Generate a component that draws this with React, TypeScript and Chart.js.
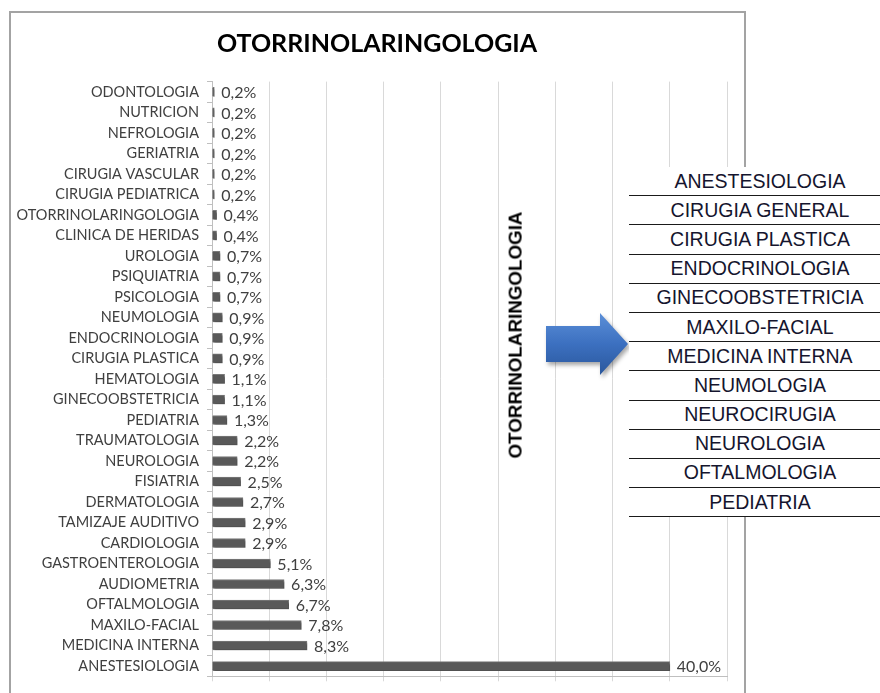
import React, { useEffect, useRef } from "react";
import { Chart, registerables } from "chart.js";

Chart.register(...registerables);

const chartTitle = "OTORRINOLARINGOLOGIA";

const categories = [
  "ODONTOLOGIA",
  "NUTRICION",
  "NEFROLOGIA",
  "GERIATRIA",
  "CIRUGIA VASCULAR",
  "CIRUGIA PEDIATRICA",
  "OTORRINOLARINGOLOGIA",
  "CLINICA DE HERIDAS",
  "UROLOGIA",
  "PSIQUIATRIA",
  "PSICOLOGIA",
  "NEUMOLOGIA",
  "ENDOCRINOLOGIA",
  "CIRUGIA PLASTICA",
  "HEMATOLOGIA",
  "GINECOOBSTETRICIA",
  "PEDIATRIA",
  "TRAUMATOLOGIA",
  "NEUROLOGIA",
  "FISIATRIA",
  "DERMATOLOGIA",
  "TAMIZAJE AUDITIVO",
  "CARDIOLOGIA",
  "GASTROENTEROLOGIA",
  "AUDIOMETRIA",
  "OFTALMOLOGIA",
  "MAXILO-FACIAL",
  "MEDICINA INTERNA",
  "ANESTESIOLOGIA",
];

const percentages = [
  0.2, 0.2, 0.2, 0.2, 0.2, 0.2, 0.4, 0.4, 0.7, 0.7, 0.7, 0.9, 0.9, 0.9, 1.1,
  1.1, 1.3, 2.2, 2.2, 2.5, 2.7, 2.9, 2.9, 5.1, 6.3, 6.7, 7.8, 8.3, 40.0,
];

const xAxisMax = 45;
const xAxisStep = 5;

const sideLabel = "OTORRINOLARINGOLOGIA";

const sideList = [
  "ANESTESIOLOGIA",
  "CIRUGIA GENERAL",
  "CIRUGIA PLASTICA",
  "ENDOCRINOLOGIA",
  "GINECOOBSTETRICIA",
  "MAXILO-FACIAL",
  "MEDICINA INTERNA",
  "NEUMOLOGIA",
  "NEUROCIRUGIA",
  "NEUROLOGIA",
  "OFTALMOLOGIA",
  "PEDIATRIA",
];

const formatPct = (v: number) => v.toFixed(1).replace(".", ",") + "%";

const shadowPlugin = {
  id: "barShadow",
  beforeDatasetDraw(chart: any) {
    const ctx = chart.ctx;
    ctx.save();
    ctx.shadowColor = "rgba(0,0,0,0.35)";
    ctx.shadowOffsetX = 2;
    ctx.shadowOffsetY = 2;
    ctx.shadowBlur = 2;
  },
  afterDatasetDraw(chart: any) {
    chart.ctx.restore();
  },
};

const valueLabelPlugin = {
  id: "valueLabels",
  afterDatasetsDraw(chart: any) {
    const ctx = chart.ctx;
    const meta = chart.getDatasetMeta(0);
    const data = chart.data.datasets[0].data as number[];
    ctx.save();
    ctx.font = "16px Lato";
    ctx.fillStyle = "#404040";
    ctx.textAlign = "left";
    ctx.textBaseline = "middle";
    meta.data.forEach((bar: any, i: number) => {
      ctx.fillText(formatPct(data[i]), bar.x + 7, bar.y + 1);
    });
    ctx.restore();
  },
};

export default function App() {
  const canvasRef = useRef<HTMLCanvasElement | null>(null);

  useEffect(() => {
    if (!canvasRef.current) return;
    const chart = new Chart(canvasRef.current, {
      type: "bar",
      data: {
        labels: categories,
        datasets: [
          {
            data: percentages,
            backgroundColor: "#595959",
            borderColor: "#7a7a7a",
            borderWidth: 1,
            barThickness: 9,
          },
        ],
      },
      options: {
        indexAxis: "y",
        animation: false,
        responsive: false,
        layout: { padding: { left: 0, right: 0, top: 0, bottom: 6 } },
        plugins: {
          legend: { display: false },
          tooltip: { enabled: false },
          title: {
            display: true,
            text: chartTitle,
            color: "#000000",
            font: { family: "Lato", size: 25, weight: "bold", lineHeight: 1.2 },
            padding: { top: 15.5, bottom: 23.1 },
          },
        },
        scales: {
          x: {
            min: 0,
            max: xAxisMax,
            ticks: { stepSize: xAxisStep, display: false },
            grid: { color: "#d9d9d9", tickLength: 5, lineWidth: 1 },
            border: { color: "#bfbfbf" },
          },
          y: {
            ticks: {
              autoSkip: false,
              color: "#404040",
              font: { family: "Lato", size: 14.5 },
              padding: 8,
            },
            grid: {
              drawOnChartArea: false,
              offset: true,
              tickLength: 5,
              color: "#bfbfbf",
            },
            border: { color: "#bfbfbf" },
            afterFit(scale: any) {
              scale.width = 201;
            },
          },
          yRight: {
            type: "category",
            position: "right",
            grid: { display: false },
            border: { display: false },
            ticks: { display: false },
            afterFit(scale: any) {
              scale.width = 16;
            },
          },
        },
      } as any,
      plugins: [shadowPlugin, valueLabelPlugin],
    });
    return () => chart.destroy();
  }, []);

  return (
    <div
      style={{
        position: "absolute",
        left: 0,
        top: 0,
        width: 880,
        height: 693,
        overflow: "hidden",
        background: "#ffffff",
      }}
    >
      <div
        style={{
          position: "absolute",
          left: 9,
          top: 11,
          width: 737,
          height: 700,
          boxSizing: "border-box",
          border: "2px solid #a3a3a3",
        }}
      />
      <canvas
        ref={canvasRef}
        width={732}
        height={680}
        style={{ position: "absolute", left: 11, top: 13, width: 732, height: 680 }}
      />
      <div
        style={{
          position: "absolute",
          left: 515.5,
          top: 335,
          transform: "translate(-50%, -50%) rotate(-90deg)",
          fontFamily: "'Liberation Sans', Arial, sans-serif",
          fontWeight: "bold",
          fontSize: 18.8,
          color: "#000",
          whiteSpace: "nowrap",
          lineHeight: 1,
        }}
      >
        {sideLabel}
      </div>
      <svg
        width={100}
        height={90}
        style={{
          position: "absolute",
          left: 540,
          top: 305,
          overflow: "visible",
          filter: "drop-shadow(2px 3px 2px rgba(0,0,0,0.35))",
        }}
      >
        <defs>
          <linearGradient id="arrowGrad" x1="0" y1="0" x2="0" y2="1">
            <stop offset="0%" stopColor="#5b8fd8" />
            <stop offset="50%" stopColor="#3c70c0" />
            <stop offset="100%" stopColor="#2a579c" />
          </linearGradient>
        </defs>
        <polygon
          points="6,21 60,21 60,8 88,39 60,70 60,57 6,57"
          fill="url(#arrowGrad)"
        />
      </svg>
      <div
        style={{
          position: "absolute",
          left: 629,
          top: 167,
          width: 262,
          background: "#ffffff",
          fontFamily: "'Liberation Sans', Arial, sans-serif",
          fontSize: 19.5,
          color: "#15152e",
        }}
      >
        {sideList.map((name) => (
          <div
            key={name}
            style={{
              height: 29.2,
              boxSizing: "border-box",
              borderBottom: "1.5px solid #1a1a1a",
              display: "flex",
              alignItems: "center",
              justifyContent: "center",
              whiteSpace: "nowrap",
            }}
          >
            {name}
          </div>
        ))}
      </div>
    </div>
  );
}
